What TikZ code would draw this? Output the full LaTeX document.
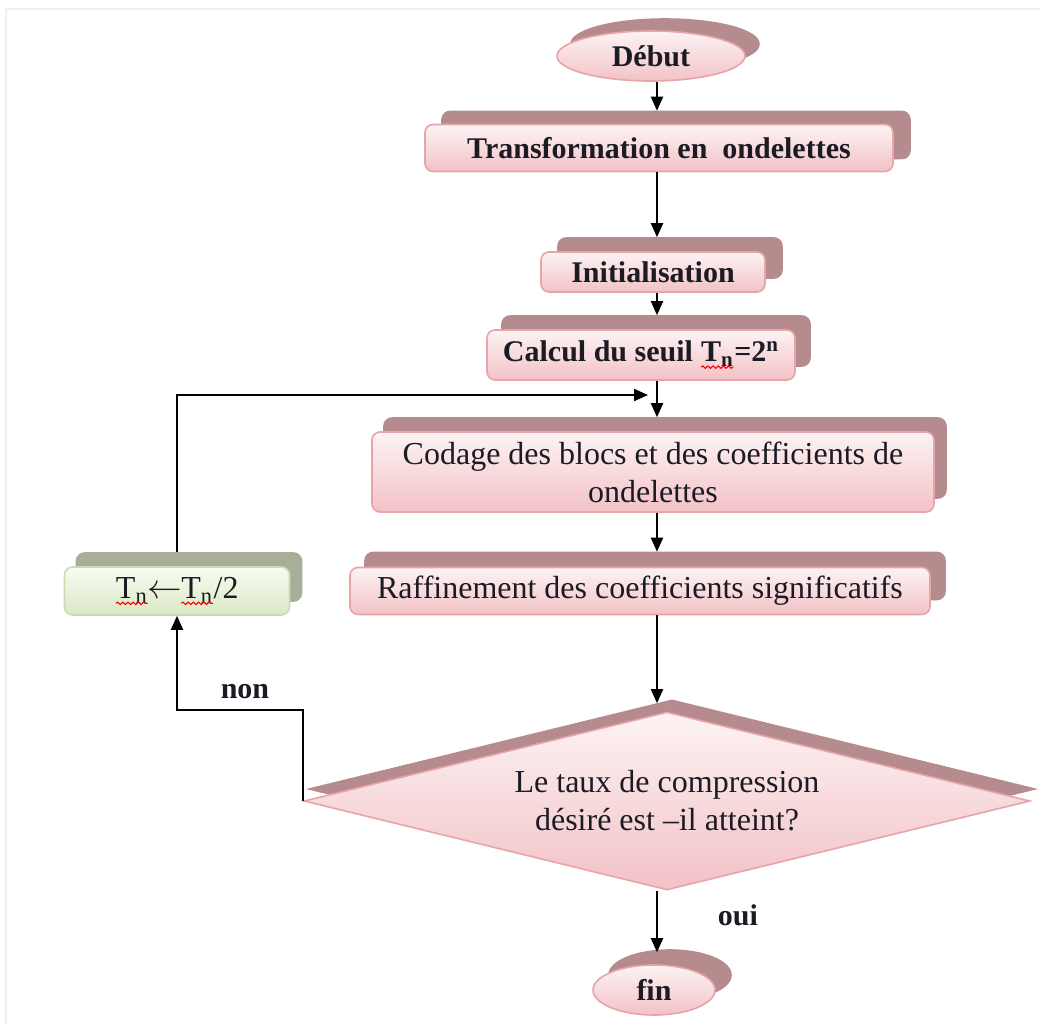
\documentclass[tikz,border=0pt]{standalone}
\usepackage{fontspec}
\setmainfont{Liberation Serif}
\usetikzlibrary{shapes.geometric, shadows, arrows.meta, calc, decorations.pathmorphing}

\definecolor{pinkTop}{HTML}{FDF3F4}
\definecolor{pinkBot}{HTML}{F2C2C6}
\definecolor{pinkEdge}{HTML}{E7A4A9}
\definecolor{pinkShadow}{HTML}{B68B8E}
\definecolor{greenTop}{HTML}{F8FBF1}
\definecolor{greenBot}{HTML}{DBE8C6}
\definecolor{greenEdge}{HTML}{CADCB2}
\definecolor{greenShadow}{HTML}{A7AF98}
\definecolor{ink}{HTML}{1B1B24}
\definecolor{frameGray}{HTML}{EEEEEE}

% T_n with a red wavy underline (spell-check mark)
\newcommand\Tn{\tikz[baseline=(tt.base), x=1pt, y=1pt]{%
  \node[shape=rectangle, inner sep=0pt, outer sep=0pt, minimum width=0pt, minimum height=0pt,
        sharp corners, draw=none, fill=none, text=ink] (tt) {T\textsubscript{n}};
  \draw[red, sharp corners, line width=0.55pt, decorate,
        decoration={snake, amplitude=0.6pt, segment length=2.6pt}]
    ([yshift=-2.6pt]tt.base west) -- ([yshift=-2.6pt]tt.base east);}}

\tikzset{
  pinkfill/.style={top color=pinkTop, bottom color=pinkBot, draw=pinkEdge, line width=0.8pt, text=ink},
  greenfill/.style={top color=greenTop, bottom color=greenBot, draw=greenEdge, line width=0.8pt, text=ink},
  pshadow/.style 2 args={copy shadow={shadow xshift=#1, shadow yshift=#2, fill=pinkShadow, draw=pinkShadow}},
  gshadow/.style 2 args={copy shadow={shadow xshift=#1, shadow yshift=#2, fill=greenShadow, draw=greenShadow}},
  stepbox/.style={rectangle, rounded corners=4pt, inner sep=0pt, align=center},
  bigtext/.style={font=\bfseries\fontsize{15}{18}\selectfont},
  plaintext/.style={font=\fontsize{16}{19}\selectfont},
  arr/.style={-{Triangle[length=7pt,width=6pt]}, line width=1pt, black},
  lbl/.style={font=\bfseries\fontsize{15}{18}\selectfont, text=ink},
}

\begin{document}
\begin{tikzpicture}[x=0.5pt, y=-0.5pt]
  \useasboundingbox (0,0) rectangle (1040,1024);
  \fill[white] (0,0) rectangle (1040,1024);
  \draw[frameGray, line width=0.6pt] (6,1024) -- (6,9) -- (1040,9);

  \coordinate (spine) at (657,0);

  % start / end ellipses
  \node (debut) [ellipse, pinkfill, pshadow={7pt}{6pt}, minimum width=94pt, minimum height=25pt, inner sep=0pt, bigtext] at (651,56) {Début};
  \node (fin) [ellipse, pinkfill, pshadow={8pt}{7.5pt}, minimum width=61pt, minimum height=25pt, inner sep=0pt, bigtext] at (654,990) {fin};

  % process boxes
  \node (transf) [stepbox, pinkfill, pshadow={8.5pt}{6.5pt}, minimum width=234pt, minimum height=23.5pt, bigtext] at (659,148) {Transformation en \ ondelettes};
  \node (init) [stepbox, pinkfill, pshadow={8.5pt}{7pt}, minimum width=112pt, minimum height=20pt, bigtext] at (653,272) {Initialisation};
  \node (calc) [stepbox, pinkfill, pshadow={7.5pt}{7pt}, minimum width=154pt, minimum height=25pt, bigtext] at (641,355) {Calcul du seuil \Tn=2\textsuperscript{n}};
  \node (codage) [stepbox, pinkfill, pshadow={6pt}{7pt}, minimum width=281pt, minimum height=40pt, plaintext] at (653,472) {Codage des blocs et des coefficients de\\ondelettes};
  \node (raff) [stepbox, pinkfill, pshadow={7.5pt}{7.5pt}, minimum width=290pt, minimum height=23.5pt, plaintext] at (640,591) {Raffinement des coefficients significatifs};
  \node (tn) [stepbox, greenfill, gshadow={6pt}{7pt}, minimum width=112.5pt, minimum height=24pt, plaintext] at (177,591) {\Tn\kern-0.5pt$\leftarrow$\kern-0.5pt\Tn/2};

  % decision
  \node (dia) [diamond, shape aspect=4.08, pinkfill, pshadow={2.5pt}{6pt}, minimum width=363pt, minimum height=89pt, inner sep=0pt, align=center, plaintext] at (667,801) {Le taux de compression\\désiré est --il atteint?};

  % labels
  \node (non) [lbl] at (245,692) {non};
  \node (oui) [lbl] at (738,915) {oui};

  \coordinate (nonrow) at (0,710);
  \coordinate (loopin) at (648,395);

  % main flow
  \draw[arr] (debut.south -| spine) -- ($(transf.north -| spine)+(0,-13)$);
  \draw[arr] (transf.south -| spine) -- ($(init.north -| spine)+(0,-14)$);
  \draw[arr] (init.south -| spine) -- ($(calc.north -| spine)+(0,-14)$);
  \draw[arr] (calc.south -| spine) -- ($(codage.north -| spine)+(0,-14)$);
  \draw[arr] (codage.south -| spine) -- ($(raff.north -| spine)+(0,-15)$);
  \draw[arr] (raff.south -| spine) -- ($(dia.north -| spine)+(0,-8)$);
  \draw[arr] (dia.south -| spine) -- ($(fin.north -| spine)+(0,-12)$);

  % loop back
  \draw[arr] (dia.west) -- (dia.west |- nonrow) -- (tn.south |- nonrow) -- (tn.south);
  \draw[arr] ($(tn.north)+(0,-14)$) |- (loopin);
\end{tikzpicture}
\end{document}
